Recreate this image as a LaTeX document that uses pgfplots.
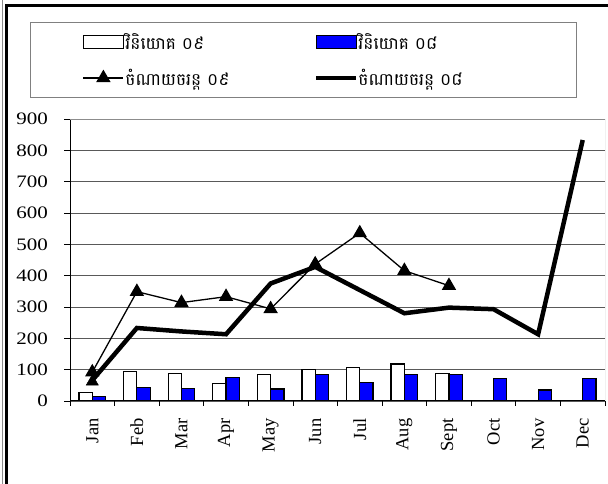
\documentclass[border=0pt]{standalone}
\usepackage{pgfplots}
\pgfplotsset{compat=1.18}
\usepackage{fontspec}
\setmainfont{Liberation Serif}
\newfontfamily\khmer[Script=Khmer]{Battambang}
\definecolor{barblue}{RGB}{0,0,255}
\pgfplotsset{
  legbarA/.style={legend image code/.code={\path[draw=none,fill=none,use as bounding box] (-53pt,-18pt) rectangle (42pt,18pt);
    \draw[##1] (0pt,-6.5pt) rectangle (40pt,6.5pt);}},
  legbarB/.style={legend image code/.code={\path[draw=none,fill=none,use as bounding box] (0pt,-18pt) rectangle (42pt,18pt);
    \draw[##1] (0pt,-6.5pt) rectangle (40pt,6.5pt);}},
  leglineA/.style={legend image code/.code={\path[draw=none,fill=none,use as bounding box] (-53pt,-18pt) rectangle (42pt,18pt);
    \draw[mark repeat=2, mark phase=2, ##1] plot coordinates {(0pt,0pt) (20pt,0pt) (40pt,0pt)};}},
  leglineB/.style={legend image code/.code={\path[draw=none,fill=none,use as bounding box] (0pt,-18pt) rectangle (42pt,18pt);
    \draw[##1] (0pt,0pt) -- (40pt,0pt);}},
}
\begin{document}
\begin{tikzpicture}
\path[use as bounding box] (0pt,0pt) rectangle (608pt,484pt);
\draw[black!45, line width=0.8pt] (2.5pt,484pt) -- (2.5pt,0pt);
\draw[line width=3pt] (6pt,0pt) -- (6pt,478pt) -- (608pt,478pt);
\begin{axis}[
  at={(70pt,83pt)}, anchor=south west, scale only axis,
  width=535pt, height=282pt,
  xmin=-0.5, xmax=11.5, ymin=0, ymax=900,
  axis x line*=bottom, axis y line*=left,
  axis line style={black, line width=1pt},
  ytick={0,100,...,900},
  ymajorgrids, grid style={draw=black!65, line width=0.8pt},
  xtick={0,...,11},
  xticklabels={Jan,Feb,Mar,Apr,May,Jun,Jul,Aug,Sept,Oct,Nov,Dec},
  minor xtick={-0.5,0.5,...,11.5},
  tick align=outside, major tick length=6pt, minor tick length=5pt,
  major x tick style={draw=none},
  minor x tick style={black, line width=0.8pt},
  major y tick style={black, line width=0.8pt},
  /pgf/number format/assume math mode=true,
  xticklabel style={font=\fontsize{18.5}{20}\selectfont, rotate=90, anchor=east, xshift=-8pt},
  yticklabel style={font=\fontsize{17.5}{20}\selectfont, xscale=1.2, anchor=east, xshift=-10pt},
  legend columns=2,
  legend cell align=left,
  legend style={at={(axis description cs:-0.0748,1.344)}, anchor=north west,
    draw=black!50, line width=0.8pt, inner xsep=0pt, inner ysep=1.5pt,
    nodes={inner sep=0pt, font=\khmer\fontsize{17}{20}\selectfont}},
]
\addplot[ybar, bar width=13.3pt, bar shift=-6.65pt, fill=white, draw=black, line width=1.2pt, legbarA]
  coordinates {(0,28) (1,94) (2,88) (3,55) (4,85) (5,100) (6,107) (7,118) (8,88)};
\addlegendentry{\makebox[191pt][l]{វិនិយោគ ០៩}}
\addplot[ybar, bar width=13.3pt, bar shift=6.65pt, fill=barblue, draw=black, line width=1.2pt, legbarB]
  coordinates {(0,14) (1,42) (2,40) (3,75) (4,38) (5,85) (6,60) (7,85) (8,85) (9,72) (10,35) (11,72)};
\addlegendentry{\makebox[218pt][l]{វិនិយោគ ០៨}}
\addplot[sharp plot, black, line width=1.3pt, mark=triangle*, mark size=7pt,
  mark options={solid, fill=black}, leglineA]
  coordinates {(0,92) (1,349) (2,314) (3,333) (4,294) (5,437) (6,536) (7,416) (8,368)};
\addlegendentry{\makebox[191pt][l]{ចំណាយចរន្ត ០៩}}
\addplot[sharp plot, black, line width=4.5pt, leglineB]
  coordinates {(0,66) (1,233) (2,222) (3,213) (4,375) (5,428) (6,354) (7,280) (8,298) (9,293) (10,213) (11,833)};
\addlegendentry{\makebox[218pt][l]{ចំណាយចរន្ត ០៨}}
\addplot[only marks, black, mark=triangle*, mark size=7pt, forget plot] coordinates {(0,62)};
\draw[black!45, line width=0.8pt] (rel axis cs:0,1) -- (rel axis cs:1,1) -- (rel axis cs:1,0);
\end{axis}
\end{tikzpicture}
\end{document}
